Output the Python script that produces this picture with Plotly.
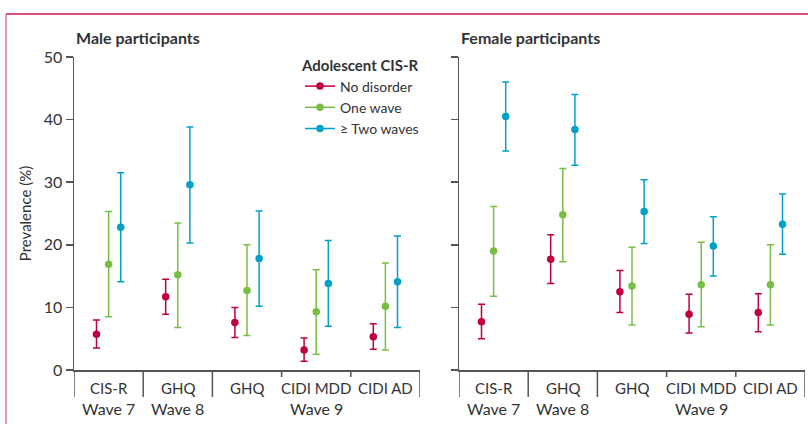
import plotly.graph_objects as go

# ---------------- data ----------------
categories = ["CIS-R", "GHQ", "GHQ", "CIDI MDD", "CIDI AD"]
wave_labels = ["Wave 7", "Wave 8", "Wave 9"]
wave_members = [[0], [1], [2, 3, 4]]

series_names = ["No disorder", "One wave", "\u2265 Two waves"]
series_colors = ["#c0003c", "#78be43", "#00a0c8"]

male_est = {
    "No disorder": [5.7, 11.7, 7.6, 3.2, 5.3],
    "One wave": [16.9, 15.2, 12.7, 9.3, 10.2],
    "\u2265 Two waves": [22.8, 29.6, 17.8, 13.8, 14.1],
}
male_lo = {
    "No disorder": [3.5, 8.9, 5.2, 1.4, 3.3],
    "One wave": [8.5, 6.8, 5.5, 2.5, 3.2],
    "\u2265 Two waves": [14.1, 20.3, 10.2, 7.0, 6.8],
}
male_hi = {
    "No disorder": [8.0, 14.5, 10.0, 5.1, 7.4],
    "One wave": [25.3, 23.5, 20.0, 16.0, 17.1],
    "\u2265 Two waves": [31.5, 38.8, 25.4, 20.7, 21.4],
}
female_est = {
    "No disorder": [7.7, 17.7, 12.5, 8.9, 9.2],
    "One wave": [19.0, 24.8, 13.4, 13.6, 13.6],
    "\u2265 Two waves": [40.5, 38.4, 25.3, 19.8, 23.3],
}
female_lo = {
    "No disorder": [5.0, 13.8, 9.2, 5.9, 6.1],
    "One wave": [11.8, 17.3, 7.2, 6.9, 7.2],
    "\u2265 Two waves": [35.0, 32.7, 20.2, 15.0, 18.5],
}
female_hi = {
    "No disorder": [10.5, 21.6, 15.9, 12.1, 12.2],
    "One wave": [26.1, 32.2, 19.6, 20.4, 20.0],
    "\u2265 Two waves": [46.0, 44.0, 30.4, 24.5, 28.1],
}
y_ticks = [0, 10, 20, 30, 40, 50]

# ---------------- layout constants ----------------
W, H = 808, 424
FONT = "Lato"
TXT = "#333333"
AX = "#555555"
offsets = [-0.175, 0.0, 0.175]


def px_x(p):
    return p / W


def px_y(p):
    return (H - p) / H


fig = go.Figure()

panels = [
    ("x", "y", male_est, male_lo, male_hi),
    ("x2", "y2", female_est, female_lo, female_hi),
]
for xa, ya, est, lo, hi in panels:
    for s, name in enumerate(series_names):
        xs = [i + offsets[s] for i in range(len(categories))]
        ys = est[name]
        plus = [h - v for h, v in zip(hi[name], ys)]
        minus = [v - l for v, l in zip(ys, lo[name])]
        fig.add_trace(go.Scatter(
            x=xs, y=ys, mode="markers", xaxis=xa, yaxis=ya,
            marker=dict(color=series_colors[s], size=7.5),
            error_y=dict(type="data", array=plus, arrayminus=minus,
                         color=series_colors[s], thickness=1.5, width=3.5),
            showlegend=False, hoverinfo="skip",
        ))

# legend entries
for s, name in enumerate(series_names):
    fig.add_trace(go.Scatter(
        x=[None], y=[None], mode="lines+markers", name=name,
        line=dict(color=series_colors[s], width=1.5),
        marker=dict(color=series_colors[s], size=7.5),
        xaxis="x", yaxis="y",
    ))

y_dom = [px_y(370), px_y(57)]
x_dom1 = [px_x(74), px_x(420)]
x_dom2 = [px_x(459), px_x(805)]
n = len(categories)

common_x = dict(range=[-0.5, n - 0.5], showgrid=False, zeroline=False,
                showticklabels=False, ticks="", showline=True, automargin=False,
                linecolor=AX, linewidth=1.5, fixedrange=True)
common_y = dict(range=[0, 50], tickvals=y_ticks, showgrid=False, zeroline=False,
                ticks="outside", ticklen=7, tickwidth=1.5, tickcolor=AX,
                showline=True, linecolor=AX, linewidth=1.5, fixedrange=True,
                automargin=False,
                tickfont=dict(family=FONT, size=16, color=TXT))

fig.update_layout(
    width=W, height=H,
    margin=dict(l=0, r=0, t=0, b=0, autoexpand=False),
    paper_bgcolor="white", plot_bgcolor="white",
    font=dict(family=FONT, color=TXT, size=14),
    xaxis=dict(domain=x_dom1, anchor="y", **common_x),
    yaxis=dict(domain=y_dom, anchor="x",
               title=dict(text="Prevalence (%)", standoff=8,
                          font=dict(family=FONT, size=15, color=TXT)),
               **common_y),
    xaxis2=dict(domain=x_dom2, anchor="y2", **common_x),
    yaxis2=dict(domain=y_dom, anchor="x2", showticklabels=False, **common_y),
    legend=dict(x=px_x(300), y=px_y(51), xanchor="left", yanchor="top",
                bgcolor="rgba(0,0,0,0)", tracegroupgap=0,
                title=dict(text="<b>Adolescent CIS-R</b>",
                           font=dict(family=FONT, size=15, color=TXT)),
                font=dict(family=FONT, size=14, color=TXT),
                itemwidth=30),
    showlegend=True,
)

shapes = []
annotations = []
for xa in ["x", "x2"]:
    group_end = set()
    for members in wave_members:
        group_end.add(members[0] - 0.5)
        group_end.add(members[-1] + 0.5)
    for k in range(n + 1):
        pos = k - 0.5
        bottom = 397 if pos in group_end else 377
        shapes.append(dict(type="line", xref=xa, yref="paper",
                           x0=pos, x1=pos, y0=px_y(370), y1=px_y(bottom),
                           line=dict(color=AX, width=1.5)))
    for i, c in enumerate(categories):
        annotations.append(dict(x=i, y=px_y(388), xref=xa, yref="paper",
                                text=c, showarrow=False, yanchor="middle",
                                font=dict(family=FONT, size=15, color=TXT)))
    for lab, members in zip(wave_labels, wave_members):
        annotations.append(dict(x=sum(members) / len(members), y=px_y(408),
                                xref=xa, yref="paper", text=lab,
                                showarrow=False, yanchor="middle",
                                font=dict(family=FONT, size=16, color=TXT)))

annotations.append(dict(x=px_x(74), y=px_y(37), xref="paper", yref="paper",
                        text="<b>Male participants</b>", showarrow=False,
                        xanchor="left", yanchor="middle",
                        font=dict(family=FONT, size=16, color=TXT)))
annotations.append(dict(x=px_x(459), y=px_y(37), xref="paper", yref="paper",
                        text="<b>Female participants</b>", showarrow=False,
                        xanchor="left", yanchor="middle",
                        font=dict(family=FONT, size=16, color=TXT)))

# frame lines
shapes.append(dict(type="line", xref="paper", yref="paper",
                   x0=px_x(6), x1=1, y0=px_y(14), y1=px_y(14),
                   line=dict(color="#c8164c", width=1.5)))
shapes.append(dict(type="line", xref="paper", yref="paper",
                   x0=px_x(6), x1=px_x(6), y0=px_y(14), y1=0,
                   line=dict(color="#d9527a", width=1.2)))

fig.update_layout(shapes=shapes, annotations=annotations)
fig.write_html("out.html",
               config=dict(displayModeBar=False, staticPlot=True),
               post_script="document.body.style.margin='0';"
                           "document.body.style.overflow='hidden';")
